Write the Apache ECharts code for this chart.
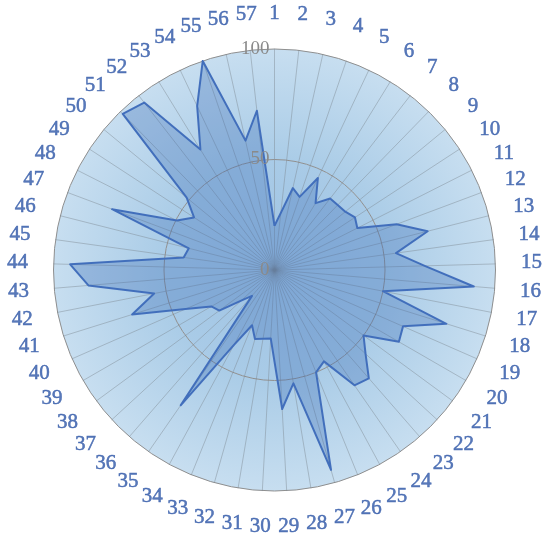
<!DOCTYPE html>
<html><head><meta charset="utf-8">
<script src="https://cdn.jsdelivr.net/npm/echarts@6/dist/echarts.min.js"></script>
<style>html,body{margin:0;padding:0;background:#fff}#c{width:550px;height:540px}</style>
</head><body><div id="c"></div>
<script>
// Categories (clockwise from top)
const categories = ['1','2','3','4','5','6','7','8','9','10','11','12','13','14','15','16','17','18','19','20',
  '21','22','23','24','25','26','27','28','29','30','31','32','33','34','35','36','37','38','39','40',
  '41','42','43','44','45','46','47','48','49','50','51','52','53','54','55','56','57'];
// Series values, same order as categories
const values = [20,26,38,35,46,35.5,41,41,41.5,43.5,42,59,71.5,55.5,68,90.5,50,81.5,63.5,65,
  50,56,65,63.5,47,50,94,52,63,31,31.5,32.5,27,38.5,74.5,15.5,20.5,31,33,44,
  67.5,55.5,84.5,92.5,41.5,40,78.5,49.5,43.5,51.5,98.5,96,64,82,100,60,72.5];
// Radial tick labels
const radialTicks = [0, 50, 100];

const rMin = radialTicks[0], rMax = radialTicks[radialTicks.length - 1];
// ECharts radar runs counter-clockwise: reverse order (keeping first at top) to draw clockwise
const order = [0];
for (let i = categories.length - 1; i >= 1; i--) order.push(i);

const CENTER = [274.5, 270];
const RADIUS = 221;
const LABEL_R = rMax * 257 / RADIUS; // category labels sit just outside the outer ring

const chart = echarts.init(document.getElementById('c'), null, {renderer: 'canvas'});
chart.setOption({
  animation: false,
  backgroundColor: '#ffffff',
  radar: {
    center: CENTER,
    radius: RADIUS,
    startAngle: 90,
    shape: 'circle',
    splitNumber: radialTicks.length - 1,
    indicator: order.map(i => ({name: categories[i], min: rMin, max: rMax})),
    axisName: {show: false},
    axisLine: {lineStyle: {color: 'rgba(125,135,145,0.45)', width: 1}},
    axisTick: {show: false},
    axisLabel: {show: false},
    splitLine: {lineStyle: {color: '#8f8f8f', width: 1}},
    splitArea: {show: true, areaStyle: {color: [
      {type: 'radial', x: 0.5, y: 0.5, r: 0.5, colorStops: [
        {offset: 0, color: '#9fc3e3'}, {offset: 1, color: '#a9cbe7'}]},
      {type: 'radial', x: 0.5, y: 0.5, r: 0.5, colorStops: [
        {offset: 0.5, color: '#aacce7'}, {offset: 1, color: '#c7def0'}]}
    ]}}
  },
  polar: {center: CENTER, radius: RADIUS},
  angleAxis: {show: false, type: 'value', min: 0, max: categories.length, startAngle: 90, clockwise: true},
  radiusAxis: {
    type: 'value', min: rMin, max: rMax, interval: radialTicks[1] - radialTicks[0],
    axisLine: {show: false}, axisTick: {show: false}, splitLine: {show: false},
    axisLabel: {color: '#8a8a8a', fontFamily: 'Liberation Serif', fontSize: 19, margin: 5},
    z: 10
  },
  series: [{
    type: 'radar',
    symbol: 'none',
    data: [{value: order.map(i => values[i])}],
    lineStyle: {color: '#4470bd', width: 2},
    areaStyle: {color: 'rgba(58,108,182,0.45)'}
  }, {
    type: 'scatter',
    coordinateSystem: 'polar',
    silent: true,
    clip: false,
    symbol: 'circle',
    symbolSize: 1,
    itemStyle: {color: 'rgba(0,0,0,0)'},
    data: categories.map((c, i) => ({name: c, value: [LABEL_R, i]})),
    label: {
      show: true, position: 'inside', formatter: p => p.name,
      color: '#2f58a8', fontFamily: 'Liberation Serif', fontSize: 21,
      textBorderColor: '#2f58a8', textBorderWidth: 0.5
    },
    labelLayout: {hideOverlap: false},
    z: 20
  }]
});
</script>
</body></html>
